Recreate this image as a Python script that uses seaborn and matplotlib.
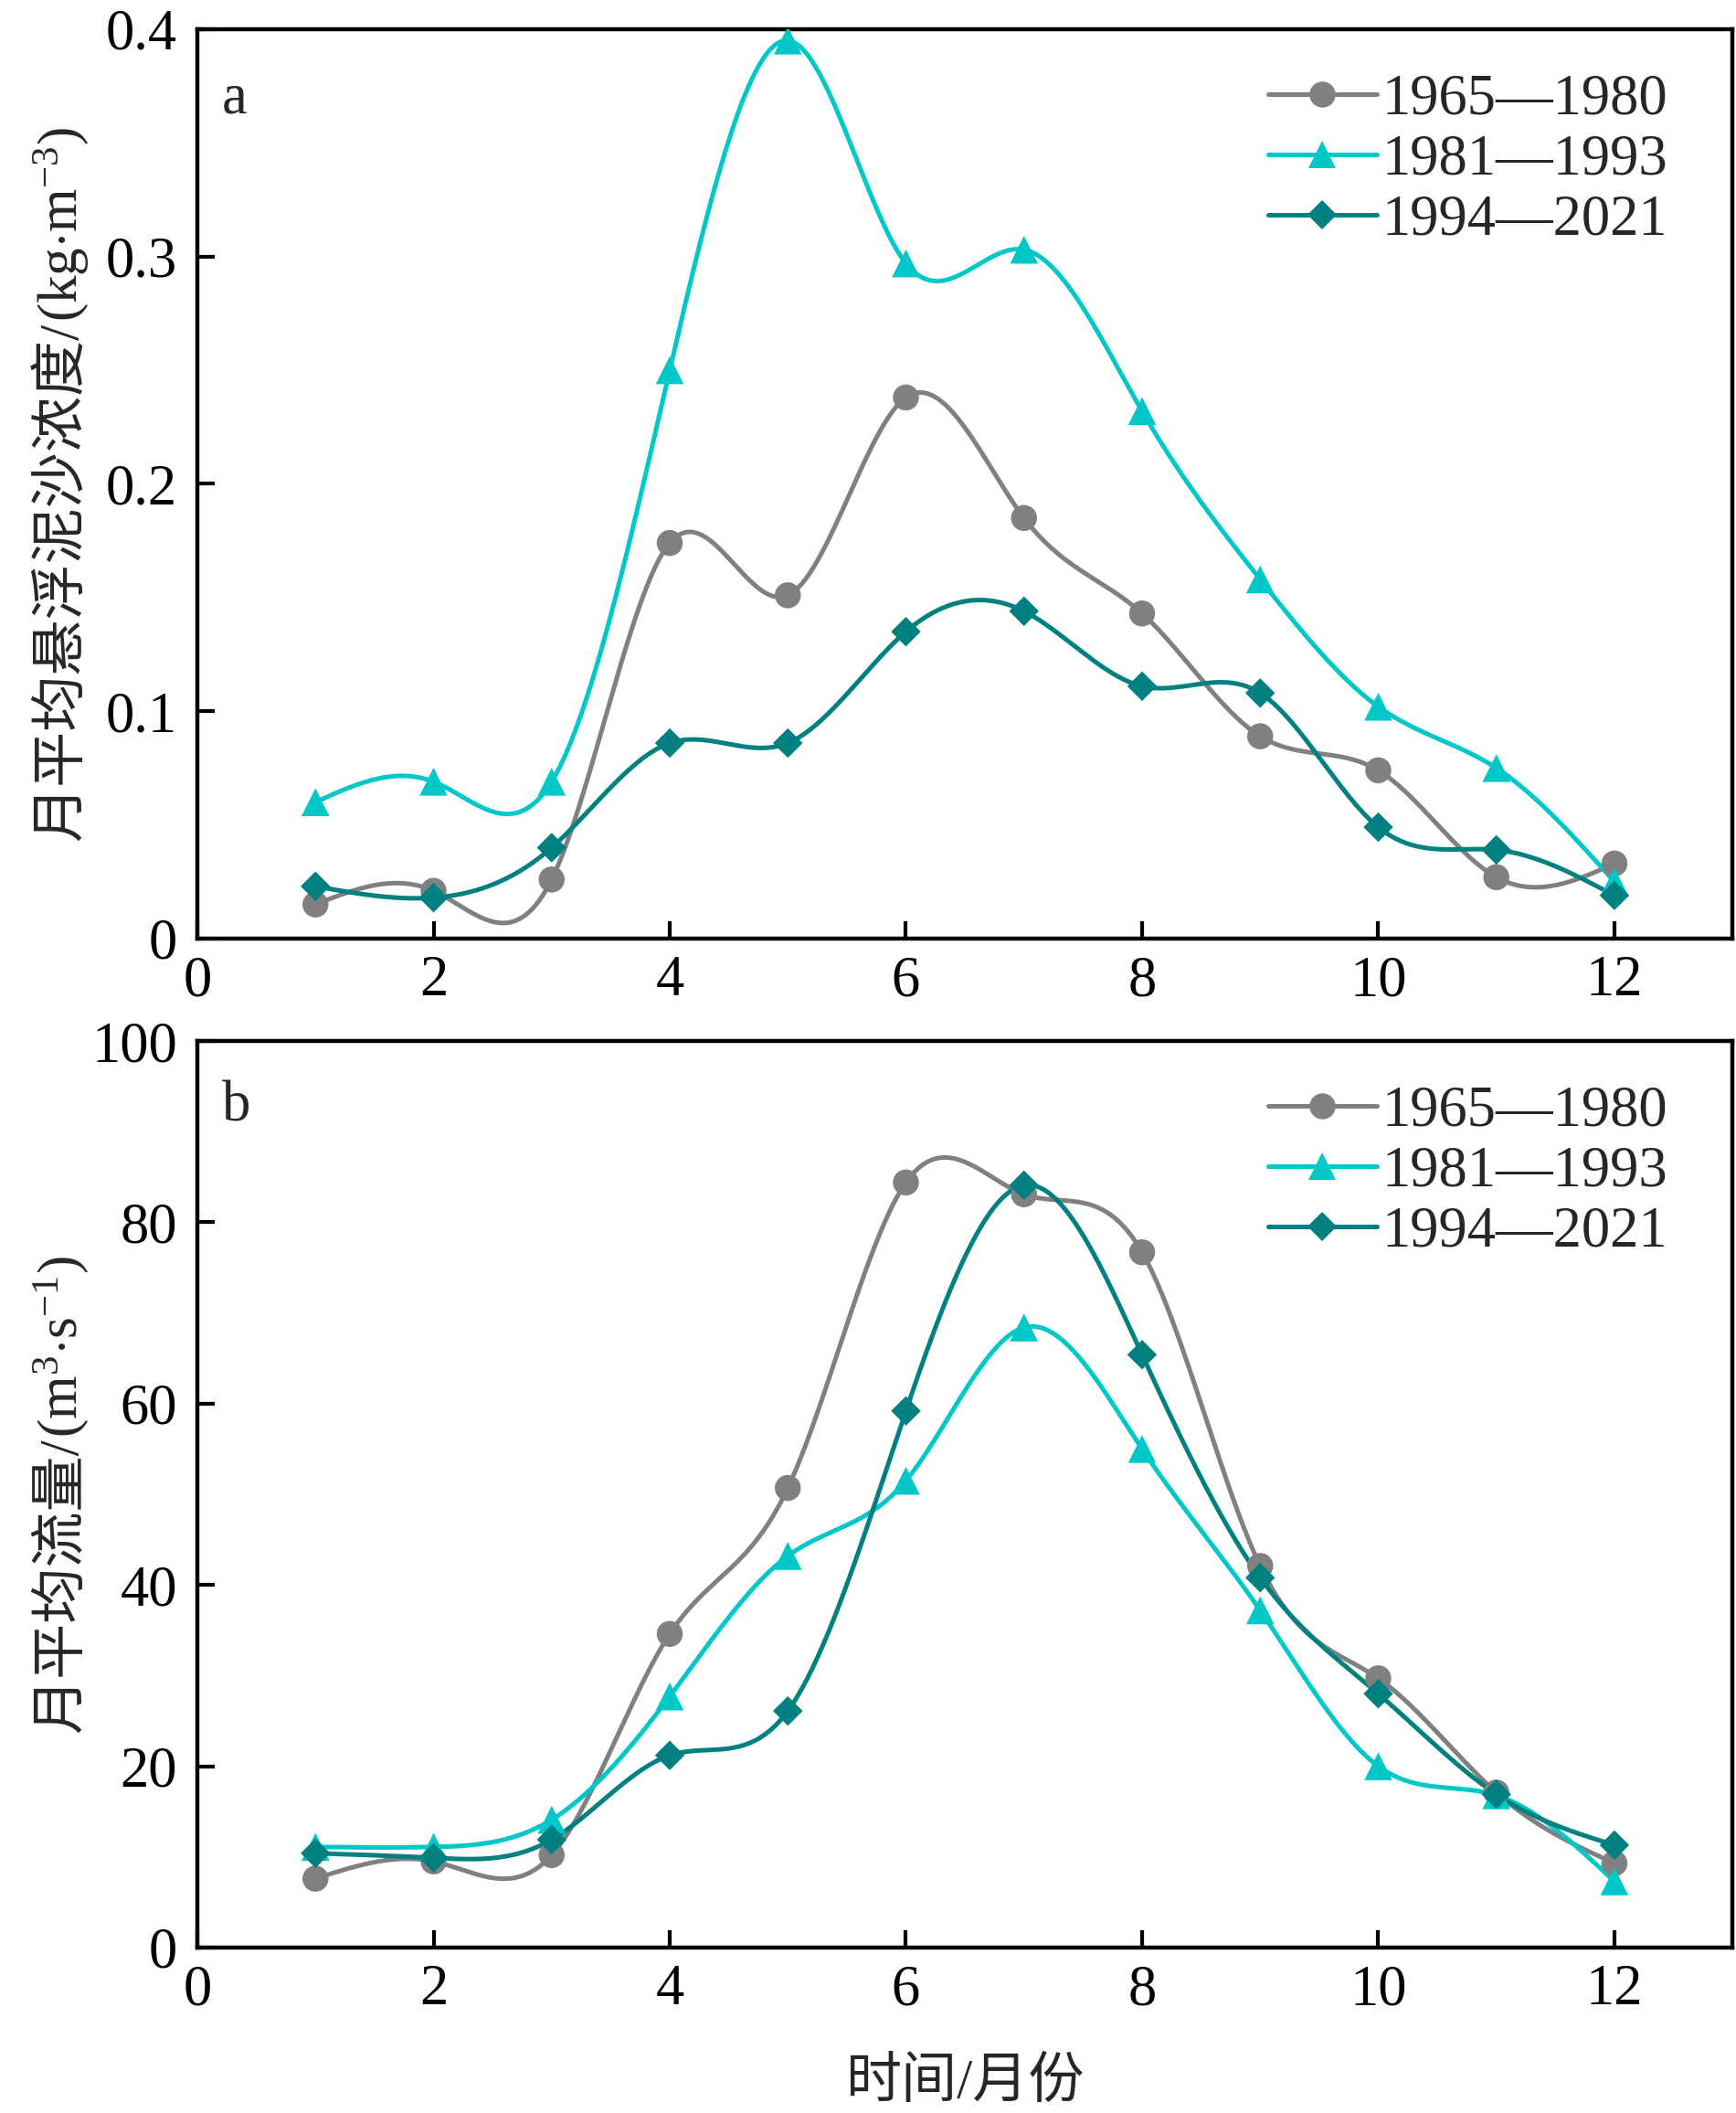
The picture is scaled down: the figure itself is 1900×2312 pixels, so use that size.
import numpy as np
import pandas as pd
import matplotlib
matplotlib.use("Agg")
import matplotlib.pyplot as plt
from matplotlib.lines import Line2D
import seaborn as sns

# ---------------- data ----------------
months = [1, 2, 3, 4, 5, 6, 7, 8, 9, 10, 11, 12]
periods = ["1965—1980", "1981—1993", "1994—2021"]

ssc_1965_1980 = [0.015, 0.021, 0.026, 0.174, 0.151, 0.238, 0.185, 0.143, 0.089, 0.074, 0.027, 0.033]
ssc_1981_1993 = [0.060, 0.069, 0.069, 0.250, 0.395, 0.297, 0.303, 0.232, 0.158, 0.102, 0.075, 0.025]
ssc_1994_2021 = [0.023, 0.018, 0.040, 0.086, 0.086, 0.135, 0.144, 0.111, 0.108, 0.049, 0.039, 0.019]

flow_1965_1980 = [7.6, 9.5, 10.2, 34.6, 50.7, 84.4, 83.1, 76.7, 42.1, 29.7, 17.1, 9.3]
flow_1981_1993 = [11.1, 11.1, 14.1, 27.7, 43.2, 51.5, 68.4, 55.0, 37.2, 20.0, 16.8, 7.3]
flow_1994_2021 = [10.4, 9.9, 11.9, 21.2, 26.1, 59.2, 84.1, 65.4, 40.8, 28.0, 16.9, 11.3]

xticks = [0, 2, 4, 6, 8, 10, 12]
xticklabels = ["0", "2", "4", "6", "8", "10", "12"]
yticks_a = [0, 0.1, 0.2, 0.3, 0.4]
yticklabels_a = ["0", "0.1", "0.2", "0.3", "0.4"]
yticks_b = [0, 20, 40, 60, 80, 100]
yticklabels_b = ["0", "20", "40", "60", "80", "100"]

ylabel_a = ("月平均悬浮泥沙浓度/", "(kg$\\cdot$m$^{-3}$)")
ylabel_b = ("月平均流量/", "(m$^{3}$$\\cdot$s$^{-1}$)")
xlabel = "时间/月份"

# ---------------- style ----------------
colors = ["#808080", "#00C8C8", "#008080"]
markers = ["o", "^", "D"]
msizes = [20.5, 22, 16.5]
LW = 3.6

sns.set_theme(style="ticks")
plt.rcParams["font.family"] = ["Liberation Serif", "Noto Sans CJK SC", "DejaVu Serif"]
plt.rcParams["mathtext.fontset"] = "custom"
plt.rcParams["mathtext.rm"] = "Liberation Serif"
plt.rcParams["mathtext.it"] = "Liberation Serif:italic"
plt.rcParams["mathtext.bf"] = "Liberation Serif:bold"
plt.rcParams["axes.unicode_minus"] = True

FS = 45
FS_LAB = 44


def natural_spline(x, y, xs):
    x = np.asarray(x, float)
    y = np.asarray(y, float)
    n = len(x)
    h = np.diff(x)
    A = np.zeros((n, n))
    b = np.zeros(n)
    A[0, 0] = 1
    A[-1, -1] = 1
    for i in range(1, n - 1):
        A[i, i - 1] = h[i - 1]
        A[i, i] = 2 * (h[i - 1] + h[i])
        A[i, i + 1] = h[i]
        b[i] = 6 * ((y[i + 1] - y[i]) / h[i] - (y[i] - y[i - 1]) / h[i - 1])
    M = np.linalg.solve(A, b)
    idx = np.clip(np.searchsorted(x, xs) - 1, 0, n - 2)
    x0, x1 = x[idx], x[idx + 1]
    hh = x1 - x0
    t0 = x1 - xs
    t1 = xs - x0
    return (M[idx] * t0 ** 3 / (6 * hh) + M[idx + 1] * t1 ** 3 / (6 * hh)
            + (y[idx] / hh - M[idx] * hh / 6) * t0
            + (y[idx + 1] / hh - M[idx + 1] * hh / 6) * t1)


fig = plt.figure(figsize=(19, 23.12), dpi=100)
ax_a = fig.add_axes([0.1137, 0.5558, 0.8843, 0.4304])
ax_b = fig.add_axes([0.1137, 0.0783, 0.8843, 0.4290])

xs = np.linspace(1, 12, 500)


def rotated_label(ax, parts, x_base):
    """Two-part rotated y label: CJK part in normal text, unit part in mathtext."""
    t1 = ax.text(x_base, 0.5, parts[0], rotation=90, rotation_mode="anchor",
                 ha="left", va="baseline", fontsize=FS_LAB, transform=ax.transAxes)
    t2 = ax.text(x_base, 0.5, parts[1], rotation=90, rotation_mode="anchor",
                 ha="left", va="baseline", fontsize=FS_LAB, transform=ax.transAxes)
    r = fig.canvas.get_renderer()
    L1 = t1.get_window_extent(r).height
    L2 = t2.get_window_extent(r).height
    bb = ax.get_window_extent(r)
    total = (L1 + L2) / bb.height
    y0 = 0.5 - total / 2
    t1.set_y(y0)
    t2.set_y(y0 + L1 / bb.height)


def draw_panel(ax, series, yticks, yticklabels, ylim, ylabel, letter, leg_y, letter_y):
    for vals, c, m, ms in zip(series, colors, markers, msizes):
        curve = pd.DataFrame({"x": xs, "y": natural_spline(months, vals, xs)})
        sns.lineplot(data=curve, x="x", y="y", color=c, lw=LW, ax=ax, legend=False)
        pts = pd.DataFrame({"x": months, "y": vals})
        sns.scatterplot(data=pts, x="x", y="y", color=c, marker=m, s=ms ** 2,
                        edgecolor="none", linewidth=0, ax=ax, legend=False, zorder=3)
    ax.set_xlim(0, 13)
    ax.set_ylim(*ylim)
    ax.set_xticks(xticks)
    ax.set_xticklabels(xticklabels)
    ax.set_yticks(yticks)
    ax.set_yticklabels(yticklabels)
    ax.tick_params(axis="both", direction="in", length=14, width=3, labelsize=FS,
                   colors="black")
    ax.tick_params(axis="y", pad=16)
    ax.tick_params(axis="x", pad=13)
    for sp in ax.spines.values():
        sp.set_linewidth(3.2)
        sp.set_color("black")
        sp.set_visible(True)
    ax.set_xlabel("")
    ax.set_ylabel("")
    rotated_label(ax, ylabel, -0.0786)
    ax.text(0.016, letter_y, letter, transform=ax.transAxes, fontsize=FS,
            ha="left", va="center")
    handles = [Line2D([0], [0], color=c, lw=LW, marker=m, markersize=ms,
                      markeredgewidth=0)
               for c, m, ms in zip(colors, markers, msizes)]
    ax.legend(handles, periods, loc="upper right", bbox_to_anchor=(0.958, leg_y),
              frameon=False, fontsize=FS, handlelength=1.9, handletextpad=0.1,
              labelspacing=0.13, borderpad=0, borderaxespad=0)


draw_panel(ax_a, [ssc_1965_1980, ssc_1981_1993, ssc_1994_2021],
           yticks_a, yticklabels_a, (0, 0.4), ylabel_a, "a", 0.951, 0.923)
draw_panel(ax_b, [flow_1965_1980, flow_1981_1993, flow_1994_2021],
           yticks_b, yticklabels_b, (0, 100), ylabel_b, "b", 0.951, 0.927)

ax_b.set_xlabel(xlabel, fontsize=FS_LAB, va="center")
ax_b.xaxis.set_label_coords(0.5, -0.150)

fig.savefig("out.png", dpi=100)
